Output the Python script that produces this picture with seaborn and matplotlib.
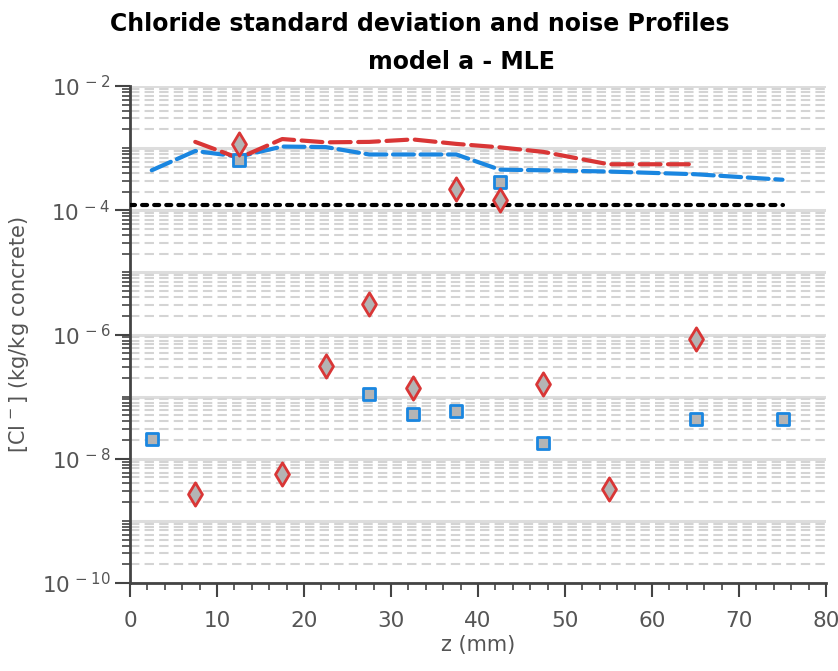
import numpy as np
import pandas as pd
import matplotlib
matplotlib.use("Agg")
import matplotlib.pyplot as plt
import matplotlib.ticker as mticker
import seaborn as sns

# ---- data ----
z_noise = [2.5, 12.5, 27.5, 32.5, 37.5, 42.5, 47.5, 65, 75]
noise = [2.1e-8, 6.5e-4, 1.1e-7, 5.3e-8, 5.9e-8, 2.9e-4, 1.8e-8, 4.4e-8, 4.4e-8]

z_resid = [7.5, 12.5, 17.5, 22.5, 27.5, 32.5, 37.5, 42.5, 47.5, 55, 65]
resid = [2.7e-9, 1.17e-3, 5.6e-9, 3.1e-7, 3.1e-6, 1.4e-7, 2.2e-4, 1.45e-4, 1.6e-7, 3.2e-9, 8.5e-7]

z_red = [7.5, 12.5, 17.5, 22.5, 27.5, 32.5, 37.5, 42.5, 47.5, 55, 65]
std_red = [1.26e-3, 6.9e-4, 1.4e-3, 1.24e-3, 1.26e-3, 1.38e-3, 1.17e-3, 1.03e-3, 8.7e-4, 5.5e-4, 5.5e-4]

z_blue = [2.5, 7.5, 12.5, 17.5, 22.5, 27.5, 32.5, 37.5, 42.5, 47.5, 55, 65, 75]
std_blue = [4.4e-4, 9.0e-4, 7.3e-4, 1.06e-3, 1.04e-3, 7.9e-4, 7.9e-4, 7.9e-4, 4.5e-4, 4.4e-4, 4.2e-4, 3.8e-4, 3.1e-4]

z_limit = [0, 75]
limit = [1.2e-4, 1.2e-4]

title1 = "Chloride standard deviation and noise Profiles"
title2 = "model a - MLE"
xlabel = "z (mm)"
ylabel = r"[Cl$^{\,-}$] (kg/kg concrete)"

RED = "#d93636"
BLUE = "#1a86e0"
GREY = "#b4b4b4"
TXT = "#555555"
AX = "#444444"

sns.set_style("white")
plt.rcParams["font.family"] = ["DejaVu Sans"]

fig = plt.figure(figsize=(8.38, 6.71), dpi=100)
ax = fig.add_axes([130/838, 1-583/671, (826-130)/838, (583-86)/671])
ax.set_yscale("log")

sns.lineplot(x=z_red, y=std_red, ax=ax, color=RED, lw=3, linestyle=(0, (5.0, 1.8)),
             dash_capstyle="round", solid_capstyle="round", zorder=4)
sns.lineplot(x=z_blue, y=std_blue, ax=ax, color=BLUE, lw=3, linestyle=(0, (5.0, 1.6)),
             dash_capstyle="round", zorder=3)
sns.lineplot(x=z_limit, y=limit, ax=ax, color="black", lw=3, linestyle=(0, (1.2, 1.7)),
             dash_capstyle="round", zorder=3)
sns.scatterplot(x=z_noise, y=noise, ax=ax, marker="s", s=65, color=GREY,
                edgecolor=BLUE, linewidth=2, zorder=5)
sns.scatterplot(x=z_resid, y=resid, ax=ax, marker="d", s=140, color=GREY,
                edgecolor=RED, linewidth=2, zorder=6)

ax.set_xlim(0, 80)
ax.set_ylim(1e-10, 1e-2)

ax.xaxis.set_major_locator(mticker.MultipleLocator(10))
ax.xaxis.set_minor_locator(mticker.MultipleLocator(2))
ax.yaxis.set_major_locator(mticker.FixedLocator([1e-10, 1e-8, 1e-6, 1e-4, 1e-2]))
minors = []
for e in range(-10, -2):
    for m in range(1, 10):
        v = m * 10.0**e
        if m == 1 and e % 2 == 0:
            continue
        minors.append(v)
ax.yaxis.set_minor_locator(mticker.FixedLocator(minors))
ax.yaxis.set_major_formatter(mticker.FuncFormatter(lambda v, p: r"$10^{\,%d}$" % round(np.log10(v))))
ax.yaxis.set_minor_formatter(mticker.NullFormatter())

# grid
for e in range(-10, -1):
    ax.axhline(10.0**e, color="#dddddd", lw=2.2, zorder=0)
ax.grid(False)
for v in minors:
    if abs(np.log10(v) - round(np.log10(v))) < 1e-9:
        continue
    ax.axhline(v, color="#d4d4d4", lw=1.5, ls=(0, (4.5, 2.5)), zorder=0)

for s in ["top", "right"]:
    ax.spines[s].set_visible(False)
for s in ["left", "bottom"]:
    ax.spines[s].set_color(AX)
    ax.spines[s].set_linewidth(2)

ax.tick_params(bottom=True, left=True, which="both")
ax.tick_params(axis="x", which="major", direction="out", length=10, width=1.5, color=AX,
               labelsize=15.5, labelcolor=TXT, pad=10)
ax.tick_params(axis="x", which="minor", direction="out", length=5, width=1.2, color=AX)
ax.tick_params(axis="y", which="major", direction="out", length=11, width=1.5, color=AX,
               labelsize=15.5, labelcolor=TXT, pad=3)
ax.tick_params(axis="y", which="minor", direction="out", length=6, width=1.2, color=AX)

ax.set_xlabel(xlabel, fontsize=15, color=TXT, labelpad=3)
ax.set_ylabel(ylabel, fontsize=15, color=TXT, labelpad=8)

fig.text(420/838, 1-24/671, title1, ha="center", va="center", fontsize=17,
         fontweight="bold", color="black")
fig.text(461/838, 1-62/671, title2, ha="center", va="center", fontsize=17,
         fontweight="bold", color="black")

fig.savefig("out.png", dpi=100)
